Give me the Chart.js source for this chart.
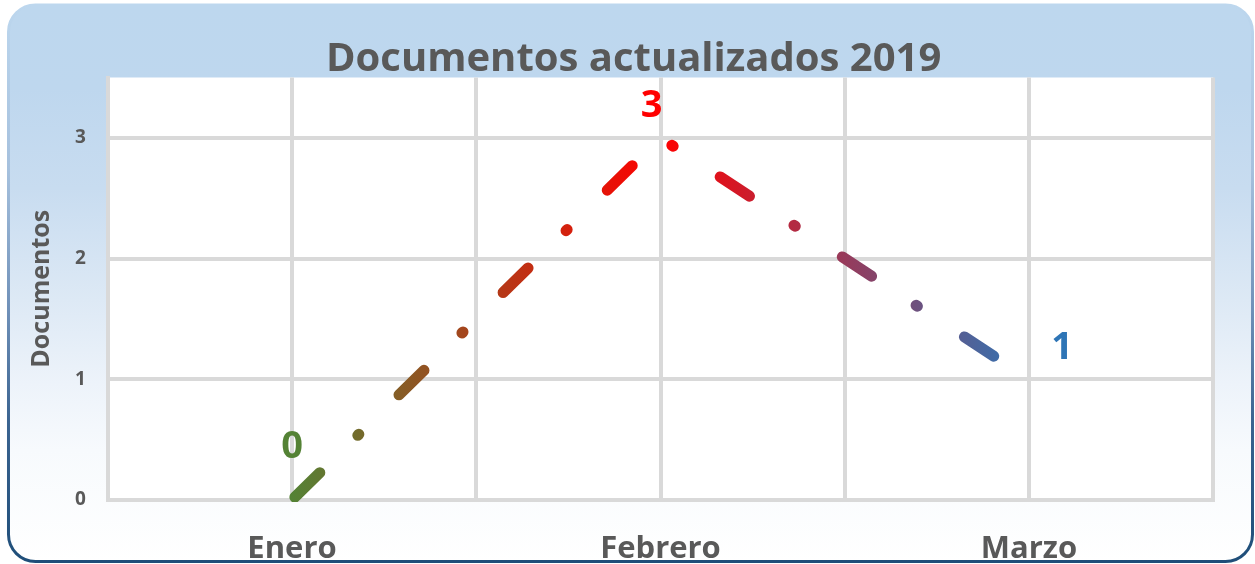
<!DOCTYPE html>
<html><head><meta charset="utf-8">
<script src="https://cdn.jsdelivr.net/npm/chart.js@4.4.1/dist/chart.umd.min.js"></script>
<style>html,body{margin:0;padding:0;background:#fff;}canvas{display:block;}</style>
</head><body>
<canvas id="c" width="1255" height="564"></canvas>
<script>
// ---- data ----
const months = ['Enero', 'Febrero', 'Marzo'];
const documentos = [0, 3, 1];
const yTicks = [0, 1, 2, 3];
const chartTitle = 'Documentos actualizados 2019';
const yAxisTitle = 'Documentos';

const FONT = "'Open Sans', 'Noto Sans', sans-serif";
const GREY = '#595959';
const GRID = '#D9D9D9';

const bgPlugin = {
  id: 'bgPlugin',
  afterLayout(chart) {
    // shift the title block slightly to the right, as in the original
    if (chart.titleBlock) {
      chart.titleBlock.left += 27;
      chart.titleBlock.right += 27;
    }
  },
  beforeDraw(chart) {
    const ctx = chart.ctx;
    const x = 8.5, y = 5, w = 1244, h = 556.5, r = 27;
    ctx.save();
    ctx.beginPath();
    ctx.roundRect(x, y, w, h, r);
    const g = ctx.createLinearGradient(0, y, 0, y + h);
    g.addColorStop(0, '#BDD7EE');
    g.addColorStop(0.15, '#BED7EE');
    g.addColorStop(0.33, '#C8DCF0');
    g.addColorStop(0.53, '#DDE9F5');
    g.addColorStop(0.68, '#EDF3FA');
    g.addColorStop(0.8, '#F7FAFD');
    g.addColorStop(1, '#FFFFFF');
    ctx.fillStyle = g;
    ctx.fill();
    const s = ctx.createLinearGradient(0, y, 0, y + h);
    s.addColorStop(0, '#BDD7EE');
    s.addColorStop(0.3, '#A5C0DD');
    s.addColorStop(0.55, '#6F90B8');
    s.addColorStop(0.75, '#3A6390');
    s.addColorStop(1, '#1F4E79');
    ctx.lineWidth = 3;
    ctx.strokeStyle = s;
    ctx.stroke();
    const a = chart.chartArea;
    ctx.fillStyle = '#FFFFFF';
    ctx.fillRect(a.left, a.top, a.right - a.left, a.bottom - a.top);
    ctx.restore();
  }
};

const labelPlugin = {
  id: 'valueLabels',
  afterDatasetsDraw(chart, args, opts) {
    const ctx = chart.ctx;
    const meta = chart.getDatasetMeta(0);
    const ds = chart.data.datasets[0];
    ctx.save();
    ctx.font = 'bold ' + opts.size + 'px ' + FONT;
    ctx.textAlign = 'center';
    ctx.textBaseline = 'alphabetic';
    meta.data.forEach((pt, i) => {
      const off = opts.offsets[i];
      ctx.fillStyle = opts.colors[i];
      const cy = pt.y + off[1];
      ctx.fillText(String(ds.data[i].y), pt.x + off[0], cy + opts.size * 0.357);
    });
    ctx.restore();
  }
};

function lineGradient(context) {
  const chart = context.chart;
  if (!chart.chartArea) return '#FF0000';
  const xs = chart.scales.x;
  const x0 = xs.getPixelForValue(0), x2 = xs.getPixelForValue(months.length - 1);
  const g = chart.ctx.createLinearGradient(x0, 0, x2, 0);
  g.addColorStop(0, '#548235');
  g.addColorStop(0.5, '#FF0000');
  g.addColorStop(1, '#2E75B6');
  return g;
}

new Chart(document.getElementById('c'), {
  type: 'line',
  data: {
    datasets: [{
      label: yAxisTitle,
      data: documentos.map((v, i) => ({ x: i, y: v })),
      borderColor: lineGradient,
      borderWidth: 11,
      borderCapStyle: 'round',
      borderDash: [35, 53.25, 1.5, 56.25],
      borderDashOffset: 142,
      pointRadius: 0,
      pointHoverRadius: 0,
      tension: 0,
      fill: false,
      clip: 2
    }]
  },
  plugins: [bgPlugin, labelPlugin],
  options: {
    responsive: false,
    animation: false,
    events: [],
    layout: { padding: { left: 0, right: 41.75, top: 0, bottom: 0 } },
    plugins: {
      legend: { display: false },
      tooltip: { enabled: false },
      title: {
        display: true,
        text: chartTitle,
        color: GREY,
        font: { family: FONT, size: 40, weight: 'bold', lineHeight: 1.1 },
        padding: { top: 37.5, bottom: -4 }
      },
      valueLabels: {
        size: 38,
        colors: ['#548235', '#FF0000', '#2E75B6'],
        offsets: [[0, -56], [-9, -34], [33, -34]]
      }
    },
    scales: {
      x: {
        type: 'linear',
        min: -0.5,
        max: months.length - 0.5,
        afterFit(scale) { scale.height = 64; },
        grid: { color: GRID, lineWidth: 4, drawTicks: false },
        border: { display: true, color: GRID, width: 4 },
        ticks: {
          stepSize: 0.5,
          autoSkip: false,
          maxRotation: 0,
          padding: 31,
          color: GREY,
          font: { family: FONT, size: 31, weight: 'bold' },
          callback: (v) => {
            const r = Math.round(v);
            return Math.abs(v - r) < 1e-6 && months[r] !== undefined ? months[r] : '';
          }
        }
      },
      y: {
        min: 0,
        max: 3.5,
        afterFit(scale) { scale.width = 107.75; },
        afterBuildTicks(scale) { scale.ticks = yTicks.map(v => ({ value: v })); },
        grid: { color: GRID, lineWidth: 4, drawTicks: false },
        border: { display: true, color: GRID, width: 4 },
        ticks: {
          padding: 22,
          color: GREY,
          font: { family: FONT, size: 19, weight: 'bold' }
        },
        title: {
          display: true,
          text: yAxisTitle,
          color: GREY,
          font: { family: FONT, size: 25, weight: 'bold', lineHeight: 1.2 },
          padding: { top: 27, bottom: 0 }
        }
      }
    }
  }
});
</script>
</body></html>
